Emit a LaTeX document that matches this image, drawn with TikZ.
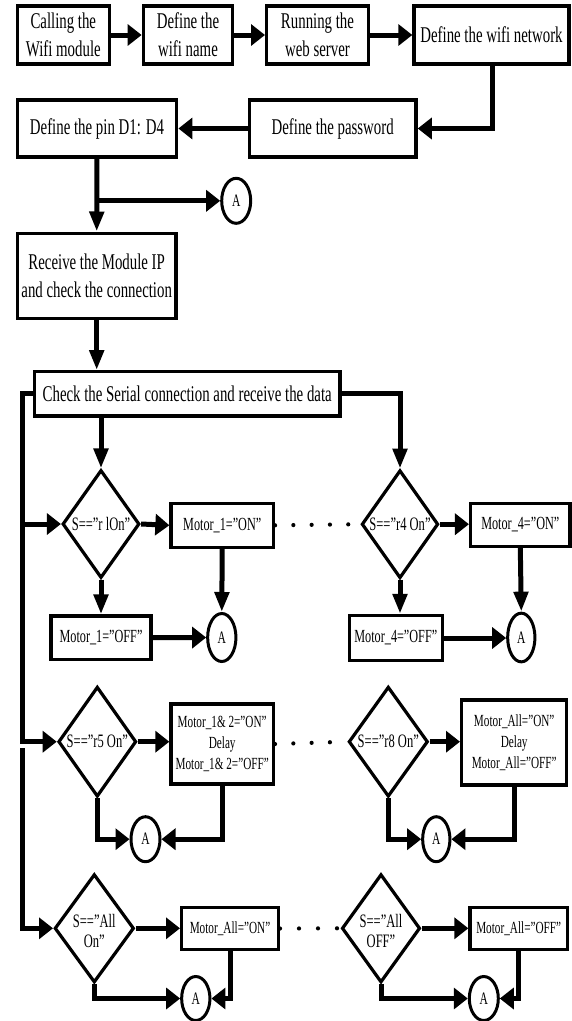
\documentclass[tikz,border=0pt]{standalone}
\usepackage{fontspec}
\setmainfont{Liberation Serif}[FakeStretch=0.66]
\usetikzlibrary{arrows.meta,shapes.geometric}
\tikzset{
  box/.style={draw, line width=3.4pt, rectangle, inner sep=0pt, align=center},
  big/.style={font=\fontsize{22.5}{28}\selectfont},
  mid/.style={font=\fontsize{18.5}{21}\selectfont},
  sml/.style={font=\fontsize{17}{21}\selectfont},
  dia/.style={draw, diamond, line width=3.2pt, inner sep=0pt},
  dl/.style={font=\fontsize{19}{20}\selectfont, align=center, inner sep=0pt},
  con/.style={ellipse, draw, line width=3pt, inner sep=0pt, font=\fontsize{17.5}{20}\selectfont},
  link/.style={line width=5pt},
  ha/.style={-{Triangle[length=14pt,width=21pt]}},
  va/.style={-{Triangle[length=20pt,width=14pt]}},
  dots/.style={line width=4.2pt, line cap=round, dash pattern=on 0pt off 18.3pt},
}
\begin{document}
\begin{tikzpicture}[x=1pt,y=-1pt]
\useasboundingbox (0,0) rectangle (571,1021);
% top row
\node[box,big,minimum width=92pt,minimum height=58pt] (b1) at (63.3,35) {Calling the\\Wifi module};
\node[box,big,minimum width=89.4pt,minimum height=58pt] (b2) at (188,35) {Define the\\wifi name};
\node[box,big,minimum width=101.6pt,minimum height=58pt] (b3) at (317.5,35) {Running the\\web server};
\node[box,big,minimum width=155pt,minimum height=58pt] (b4) at (491.5,35) {Define the wifi network};
\node[box,big,minimum width=159.4pt,minimum height=57pt] (pin) at (97,128.5) {Define the pin D1: D4};
\node[box,big,minimum width=166.7pt,minimum height=57pt] (pass) at (332.7,128.5) {Define the password};
\node[con,minimum width=29pt,minimum height=45pt] (a1) at (236.2,200.8) {A};
\node[box,big,minimum width=158.7pt,minimum height=85pt] (rcv) at (96.7,275.7) {Receive the Module IP\\and check the connection};
\node[box,big,minimum width=305.7pt,minimum height=44.3pt] (chk) at (187.2,393.9) {Check the Serial connection and receive the data};
% row 1
\node[dia,minimum width=77pt,minimum height=108pt,label={[dl]center:S==”r lOn”}] (d1) at (101,524) {};
\node[box,mid,minimum width=102.3pt,minimum height=44pt] (m1on) at (222.2,525.3) {Motor\_1=”ON”};
\node[box,mid,minimum width=100pt,minimum height=43.3pt] (m1off) at (101,637.7) {Motor\_1=”OFF”};
\node[con,minimum width=28.3pt,minimum height=48pt] (a2) at (221.8,637.5) {A};
\node[dia,minimum width=76.6pt,minimum height=108pt,label={[dl]center:S==”r4 On”}] (d4) at (400,524.2) {};
\node[box,mid,minimum width=99.3pt,minimum height=43pt] (m4on) at (520.3,524.7) {Motor\_4=”ON”};
\node[box,mid,minimum width=93pt,minimum height=45pt] (m4off) at (395.8,638) {Motor\_4=”OFF”};
\node[con,minimum width=27.3pt,minimum height=48.7pt] (a3) at (521.3,637.5) {A};
% row 2
\node[dia,minimum width=78pt,minimum height=110pt,label={[dl]center:S==”r5 On”}] (d5) at (97.3,741.7) {};
\node[box,sml,minimum width=102.3pt,minimum height=80pt] (m5) at (222.2,744) {Motor\_1\& 2=”ON”\\Delay\\Motor\_1\& 2=”OFF”};
\node[con,minimum width=29pt,minimum height=45pt] (a4) at (145.5,839.2) {A};
\node[dia,minimum width=79.3pt,minimum height=110pt,label={[dl]center:S==”r8 On”}] (d8) at (388.3,741.7) {};
\node[box,sml,minimum width=105pt,minimum height=85pt] (m8) at (514.2,742.5) {Motor\_All=”ON”\\Delay\\Motor\_All=”OFF”};
\node[con,minimum width=27.3pt,minimum height=45pt] (a5) at (436.3,839.2) {A};
% row 3
\node[dia,minimum width=79.4pt,minimum height=108.3pt,label={[dl,yshift=-3pt]center:S==”All\\On”}] (d9) at (94.3,928.3) {};
\node[box,sml,minimum width=96.6pt,minimum height=41.6pt] (m9) at (230,928.5) {Motor\_All=”ON”};
\node[con,minimum width=28.3pt,minimum height=44pt] (a6) at (195.8,998.5) {A};
\node[dia,minimum width=78.3pt,minimum height=108.3pt,label={[dl,yshift=-3pt]center:S==”All\\OFF”}] (d12) at (381,928.3) {};
\node[box,sml,minimum width=97.3pt,minimum height=41.6pt] (m12) at (518.7,928.5) {Motor\_All=”OFF”};
\node[con,minimum width=29pt,minimum height=44pt] (a7) at (483.8,998.5) {A};
% connectors top
\draw[link,ha] (b1.east) -- (b2.west);
\draw[link,ha] (b2.east) -- (b3.west);
\draw[link,ha] (b3.east) -- (b4.west);
\draw[link,ha] ([xshift=1pt]b4.south) |- (pass.east);
\draw[link,ha] (pass.west) -- (pin.east);
\draw[link,va] (pin.south) -- (rcv.north);
\draw[link,ha] (a1.west -| pin.south) -- (a1.west);
\draw[link,va] (rcv.south) -- (rcv.south |- chk.north);
\draw[link,va] (d1.north |- chk.south) -- (d1.north);
\draw[link,va] (chk.east) -| (d4.north);
% left loop
\coordinate (lt) at (22.7,741.7);
\coordinate (lb) at (22.7,748);
\draw[link,ha] (chk.west) -| (lt) -- (d5.west);
\draw[link,ha] (d1.west -| lt) -- (d1.west);
\draw[link,ha] (lb) |- (d9.west);
% row 1
\draw[link,ha] (d1.east) -- (m1on.west);
\draw[link,va] (d1.south) -- (m1off.north);
\draw[link,ha] (m1off.east) -- (a2.west);
\draw[link,va] (m1on.south) -- (a2.north);
\draw[link,ha] (d4.east) -- (d4.east -| m4on.west);
\draw[link,va] (d4.south) -- (d4.south |- m4off.north);
\draw[link,ha] (m4off.east) -- (m4off.east -| a3.west);
\draw[link,va] (m4on.south) -- (a3.north);
% row 2
\draw[link,ha] (d5.east) -- (d5.east -| m5.west);
\draw[link,ha] (d5.south) |- (a4.west);
\draw[link,ha] (m5.south) |- (a4.east);
\draw[link,ha] (d8.east) -- (d8.east -| m8.west);
\draw[link,ha] (d8.south) |- (a5.west);
\draw[link,ha] (m8.south) |- (a5.east);
% row 3
\draw[link,ha] (d9.east) -- (d9.east -| m9.west);
\draw[link,ha] (d9.south) |- (a6.west);
\draw[link,ha] (m9.south) |- (a6.east);
\draw[link,ha] (d12.east) -- (d12.east -| m12.west);
\draw[link,ha] (d12.south) |- (a7.west);
\draw[link,ha] (m12.south) |- (a7.east);
% dots
\draw[dots] (m1on.east) -- (d4.west);
\draw[dots] (m5.east) -- (d8.west);
\draw[dots, dash pattern=on 0pt off 19pt] (m9.east) -- (d12.west);
\end{tikzpicture}
\end{document}
